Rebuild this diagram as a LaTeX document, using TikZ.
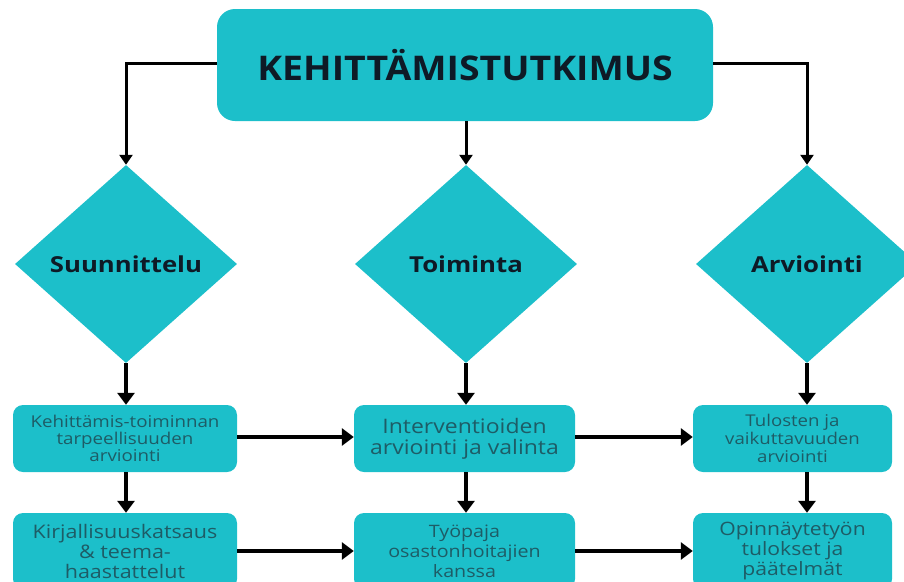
\documentclass[tikz,border=0pt]{standalone}
\usepackage{fontspec}
\setmainfont{Open Sans}
\newfontfamily\titlefont{Open Sans}[FakeStretch=1.1]
\newfontfamily\phasefont{Open Sans}[FakeStretch=1.17]
\newfontfamily\boxfont{Open Sans}[FakeStretch=1.15]
\usetikzlibrary{shapes.geometric,arrows.meta,positioning}
\definecolor{teal1}{HTML}{1CBFCA}
\definecolor{boxtext}{HTML}{1E5C66}
\definecolor{darktxt}{HTML}{0E1A26}
\tikzset{
  mainbox/.style={fill=teal1,rounded corners=18pt,minimum width=496pt,minimum height=112pt,inner sep=0pt,text=darktxt,font=\titlefont\fontsize{34}{40}\selectfont\bfseries},
  phase/.style={diamond,fill=teal1,aspect=1.12,minimum width=222pt,minimum height=198pt,inner sep=0pt,text=darktxt,font=\phasefont\fontsize{22}{26}\selectfont\bfseries},
  stepbox/.style={fill=teal1,rounded corners=10pt,inner sep=0pt,text=boxtext,align=center},
  thick arrow/.style={line width=4pt,-{Triangle[width=17pt,length=12pt]}},
  thin arrow/.style={line width=3pt,-{Triangle[width=13pt,length=10pt]}},
}
\begin{document}
\begin{tikzpicture}[x=1pt,y=-1pt]
\useasboundingbox (0,0) rectangle (904,581);
\clip (0,0) rectangle (904,581);
\node[mainbox] (top) at (465,65) {KEHITTÄMISTUTKIMUS};
\node[phase] (d1) at (126,264) {Suunnittelu};
\node[phase] (d2) at (466,264) {Toiminta};
\node[phase] (d3) at (807,264) {Arviointi};

\node[stepbox,minimum width=224pt,minimum height=67pt,font=\boxfont\fontsize{16.3}{17}\selectfont] (a1) at (125,438.5) {Kehittämis-toiminnan\\tarpeellisuuden\\arviointi};
\node[stepbox,minimum width=221pt,minimum height=67pt,font=\boxfont\fontsize{20}{21}\selectfont] (b1) at (464.5,438.5) {Interventioiden\\arviointi ja valinta};
\node[stepbox,minimum width=199pt,minimum height=67pt,font=\boxfont\fontsize{16.2}{18}\selectfont] (c1) at (792.5,438.5) {Tulosten ja\\vaikuttavuuden\\arviointi};

\node[stepbox,minimum width=224pt,minimum height=76pt,font=\boxfont\fontsize{18.7}{20}\selectfont] (a2) at (125,551) {Kirjallisuuskatsaus\\\& teema-\\haastattelut};
\node[stepbox,minimum width=221pt,minimum height=76pt,font=\boxfont\fontsize{17.1}{20}\selectfont] (b2) at (464.5,551) {Työpaja\\osastonhoitajien\\kanssa};
\node[stepbox,minimum width=199pt,minimum height=76pt,font=\boxfont\fontsize{18.4}{20}\selectfont] (c2) at (792.5,551) {Opinnäytetyön\\tulokset ja\\päätelmät};

% title connectors
\draw[thin arrow] ([yshift=2pt]top.west) -| (d1.north);
\draw[thin arrow] ([yshift=2pt]top.east) -| (d3.north);
\draw[thin arrow] (top.south -| d2.north) -- (d2.north);

% diamonds to boxes
\draw[thick arrow] (d1.south) -- (d1.south |- a1.north);
\draw[thick arrow] (d2.south) -- (d2.south |- b1.north);
\draw[thick arrow] (d3.south) -- (d3.south |- c1.north);

% row1 to row2
\draw[thick arrow] (a1.south -| d1.south) -- (a2.north -| d1.south);
\draw[thick arrow] (b1.south -| d2.south) -- (b2.north -| d2.south);
\draw[thick arrow] (c1.south -| d3.south) -- (c2.north -| d3.south);

% horizontal
\draw[thick arrow] ([yshift=1.5pt]a1.east) -- ([yshift=1.5pt]b1.west);
\draw[thick arrow] ([yshift=1.5pt]b1.east) -- ([yshift=1.5pt]c1.west);
\draw[thick arrow] (a2.east) -- (b2.west);
\draw[thick arrow] (b2.east) -- (c2.west);
\end{tikzpicture}
\end{document}
